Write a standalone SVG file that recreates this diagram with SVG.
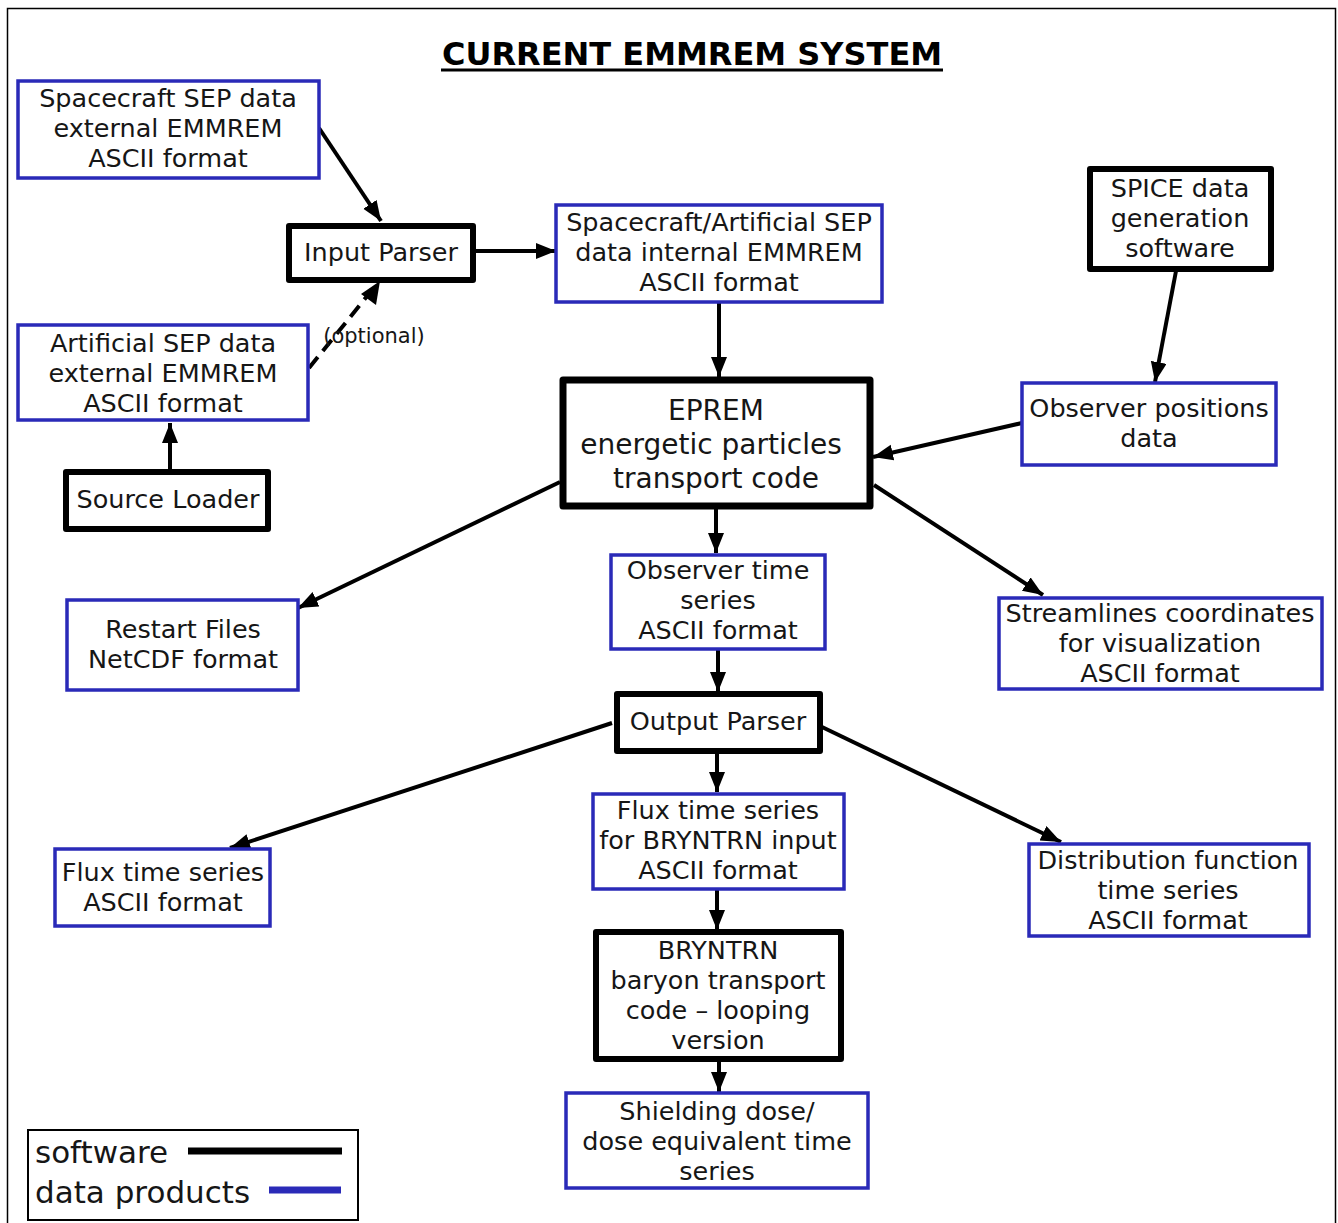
<svg xmlns="http://www.w3.org/2000/svg" width="1338" height="1223" viewBox="0 0 1338 1223">
<style>
text{font-family:"DejaVu Sans","Liberation Sans",sans-serif;fill:#161616;text-anchor:middle;}
.t{font-size:25.5px;}
.big{font-size:28px;}
.sw{fill:#fff;stroke:#000;stroke-width:6;stroke-linejoin:round;}
.dp{fill:#fff;stroke:#2a2ab8;stroke-width:3.5;}
.c{stroke:#000;stroke-width:4;fill:none;marker-end:url(#ah);}
</style>
<defs>
<marker id="ah" markerUnits="userSpaceOnUse" markerWidth="22" markerHeight="18" refX="20" refY="8" orient="auto">
<path d="M0,0 L20,8 L0,16 z" fill="#000"/>
</marker>
</defs>
<rect x="0" y="0" width="1338" height="1223" fill="#fff"/>
<rect x="7.5" y="8.5" width="1328" height="1230" fill="none" stroke="#000" stroke-width="1.5"/>
<g id="title">
<text x="692" y="65" style="font-size:32px;font-weight:bold;fill:#000">CURRENT EMMREM SYSTEM</text>
<line x1="441" y1="70" x2="943" y2="70" stroke="#000" stroke-width="3"/>
</g>
<g id="connectors">
<line class="c" x1="319" y1="128" x2="381" y2="221"/>
<line class="c" x1="475" y1="251" x2="556" y2="251"/>
<line x1="309" y1="368" x2="368" y2="295" stroke="#000" stroke-width="4" stroke-dasharray="14,8"/>
<path d="M380,281 L376,305 L361,294 z" fill="#000"/>
<line class="c" x1="170" y1="470" x2="170" y2="423"/>
<line class="c" x1="719" y1="303" x2="719" y2="377"/>
<line class="c" x1="1176" y1="271" x2="1155" y2="382"/>
<line class="c" x1="1022" y1="423" x2="873" y2="457"/>
<line class="c" x1="560" y1="482" x2="298" y2="608"/>
<line class="c" x1="716" y1="509" x2="716" y2="553"/>
<line class="c" x1="874" y1="485" x2="1043" y2="595"/>
<line class="c" x1="718" y1="650" x2="718" y2="692"/>
<line class="c" x1="612" y1="723" x2="230" y2="848"/>
<line class="c" x1="717" y1="754" x2="717" y2="792"/>
<line class="c" x1="822" y1="727" x2="1061" y2="842"/>
<line class="c" x1="717" y1="890" x2="717" y2="930"/>
<line class="c" x1="719" y1="1062" x2="719" y2="1092"/>
</g>
<g id="n-spacecraft-sep">
<rect class="dp" x="18" y="81" width="301" height="97"/>
<text class="t" x="168" y="107">Spacecraft SEP data</text>
<text class="t" x="168" y="137">external EMMREM</text>
<text class="t" x="168" y="167">ASCII format</text>
</g>
<g id="n-input-parser">
<rect class="sw" x="289" y="226" width="184" height="54"/>
<text class="t" x="381" y="261">Input Parser</text>
</g>
<g id="n-internal-sep">
<rect class="dp" x="556" y="205" width="326" height="97"/>
<text class="t" x="719" y="231">Spacecraft/Artificial SEP</text>
<text class="t" x="719" y="261">data internal EMMREM</text>
<text class="t" x="719" y="291">ASCII format</text>
</g>
<g id="n-spice">
<rect class="sw" x="1090" y="169" width="181" height="100"/>
<text class="t" x="1180" y="197">SPICE data</text>
<text class="t" x="1180" y="227">generation</text>
<text class="t" x="1180" y="257">software</text>
</g>
<g id="n-artificial-sep">
<rect class="dp" x="18" y="325" width="290" height="95"/>
<text class="t" x="163" y="352">Artificial SEP data</text>
<text class="t" x="163" y="382">external EMMREM</text>
<text class="t" x="163" y="412">ASCII format</text>
</g>
<text x="374" y="343" style="font-size:21px">(optional)</text>
<g id="n-source-loader">
<rect class="sw" x="66" y="472" width="202" height="57"/>
<text class="t" x="168" y="508">Source Loader</text>
</g>
<g id="n-eprem">
<rect class="sw" x="563" y="380" width="307" height="126" style="stroke-width:7"/>
<text class="big" x="716" y="420">EPREM</text>
<text class="big" x="711" y="454">energetic particles</text>
<text class="big" x="716" y="488">transport code</text>
</g>
<g id="n-observer-positions">
<rect class="dp" x="1022" y="383" width="254" height="82"/>
<text class="t" x="1149" y="417">Observer positions</text>
<text class="t" x="1149" y="447">data</text>
</g>
<g id="n-observer-ts">
<rect class="dp" x="611" y="555" width="214" height="94"/>
<text class="t" x="718" y="579">Observer time</text>
<text class="t" x="718" y="609">series</text>
<text class="t" x="718" y="639">ASCII format</text>
</g>
<g id="n-restart">
<rect class="dp" x="67" y="600" width="231" height="90"/>
<text class="t" x="183" y="638">Restart Files</text>
<text class="t" x="183" y="668">NetCDF format</text>
</g>
<g id="n-streamlines">
<rect class="dp" x="999" y="598" width="323" height="91"/>
<text class="t" x="1160" y="622">Streamlines coordinates</text>
<text class="t" x="1160" y="652">for visualization</text>
<text class="t" x="1160" y="682">ASCII format</text>
</g>
<g id="n-output-parser">
<rect class="sw" x="617" y="694" width="203" height="57"/>
<text class="t" x="718" y="730">Output Parser</text>
</g>
<g id="n-flux-bryntrn">
<rect class="dp" x="593" y="794" width="251" height="95"/>
<text class="t" x="718" y="819">Flux time series</text>
<text class="t" x="718" y="849">for BRYNTRN input</text>
<text class="t" x="718" y="879">ASCII format</text>
</g>
<g id="n-flux-ascii">
<rect class="dp" x="55" y="849" width="215" height="77"/>
<text class="t" x="163" y="881">Flux time series</text>
<text class="t" x="163" y="911">ASCII format</text>
</g>
<g id="n-distribution">
<rect class="dp" x="1029" y="844" width="280" height="92"/>
<text class="t" x="1168" y="869">Distribution function</text>
<text class="t" x="1168" y="899">time series</text>
<text class="t" x="1168" y="929">ASCII format</text>
</g>
<g id="n-bryntrn">
<rect class="sw" x="596" y="932" width="245" height="127"/>
<text class="t" x="718" y="959">BRYNTRN</text>
<text class="t" x="718" y="989">baryon transport</text>
<text class="t" x="718" y="1019">code – looping</text>
<text class="t" x="718" y="1049">version</text>
</g>
<g id="n-shielding">
<rect class="dp" x="566" y="1093" width="302" height="95"/>
<text class="t" x="717" y="1120">Shielding dose/</text>
<text class="t" x="717" y="1150">dose equivalent time</text>
<text class="t" x="717" y="1180">series</text>
</g>
<g id="legend">
<rect x="28" y="1130" width="330" height="90" fill="#fff" stroke="#000" stroke-width="2"/>
<text x="35" y="1163" style="font-size:31px;text-anchor:start">software</text>
<text x="35" y="1203" style="font-size:31px;text-anchor:start">data products</text>
<line x1="188" y1="1151" x2="342" y2="1151" stroke="#000" stroke-width="7"/>
<line x1="269" y1="1190" x2="341" y2="1190" stroke="#2a2ab8" stroke-width="7"/>
</g>
</svg>
